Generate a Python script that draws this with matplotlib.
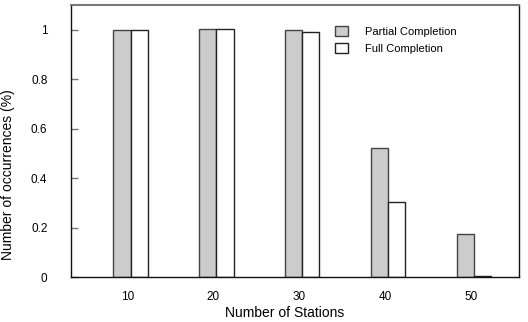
import numpy as np
import matplotlib.pyplot as plt

plt.rcParams['font.family'] = ['Liberation Sans', 'DejaVu Sans']

stations = [10, 20, 30, 40, 50]
partial = [1.0, 1.002, 0.998, 0.522, 0.173]
full = [1.0, 1.002, 0.992, 0.304, 0.004]

fig = plt.figure(figsize=(5.28, 3.22), dpi=100)
ax = fig.add_axes([71 / 528, 45 / 322, 448 / 528, 272 / 322])

x = np.array(stations, dtype=float)
w = 2.0
off = 0.35
ax.bar(x + off - w / 2, partial, width=w, color='#cccccc', edgecolor='#444444',
       linewidth=1.0, label='Partial Completion')
ax.bar(x + off + w / 2, full, width=w, color='white', edgecolor='#222222',
       linewidth=1.0, label='Full Completion')

ax.set_xlim(3.4, 55.6)
ax.set_ylim(0, 1.1)
ax.set_xticks(stations)
ax.set_yticks([0, 0.2, 0.4, 0.6, 0.8, 1])
ax.set_yticklabels(['0', '0.2', '0.4', '0.6', '0.8', '1'])
ax.tick_params(axis='x', length=0, pad=10, labelsize=8.5)
ax.tick_params(axis='y', direction='in', length=5, width=1, color='#777777',
               pad=17, labelsize=8.5)
for s in ax.spines.values():
    s.set_color('#111111')
    s.set_linewidth(1.0)
ax.spines['top'].set_color('#777777')
ax.spines['top'].set_linewidth(1.5)

ax.set_xlabel('Number of Stations', fontsize=10)
ax.set_ylabel('Number of occurrences (%)', fontsize=10)
ax.xaxis.set_label_coords(0.4766, -0.108)
ax.yaxis.set_label_coords(-0.125, 0.375)

ax.legend(loc='upper right', bbox_to_anchor=(0.884, 0.96), frameon=False,
          fontsize=8, handlelength=1.1, handleheight=1.0, handletextpad=1.6,
          labelspacing=0.55)

fig.savefig('out.png', dpi=100)
